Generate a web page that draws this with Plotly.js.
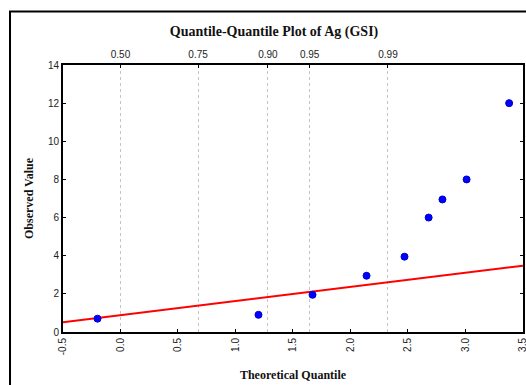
<!DOCTYPE html>
<html><head><meta charset="utf-8">
<script src="https://cdn.plot.ly/plotly-3.0.1.min.js"></script>
<style>html,body{margin:0;padding:0;background:#fff}#chart{width:526px;height:385px}</style>
</head><body><div id="chart"></div>
<script>
// Data
const theoretical = [-0.20, 1.20, 1.67, 2.14, 2.47, 2.68, 2.80, 3.01, 3.38];
const observed    = [0.7, 0.9, 1.95, 2.95, 3.95, 6.0, 6.95, 8.0, 12.0];
const fitX = [-0.5, 3.5];
const fitY = [0.51, 3.48];
const probLabels = ['0.50', '0.75', '0.90', '0.95', '0.99'];
const probQuantiles = [0, 0.6745, 1.2816, 1.6449, 2.3263];
const xTicks = [-0.5, 0, 0.5, 1, 1.5, 2, 2.5, 3, 3.5];
const xTickText = ['-0.5', '0.0', '0.5', '1.0', '1.5', '2.0', '2.5', '3.0', '3.5'];
const yTicks = [0, 2, 4, 6, 8, 10, 12, 14];

const serif = '"Liberation Serif", "Times New Roman", serif';
const sans = '"Liberation Sans", Arial, sans-serif';

const traces = [
  {x: fitX, y: fitY, mode: 'lines', line: {color: '#ff0000', width: 2}, xaxis: 'x', yaxis: 'y', hoverinfo: 'skip'},
  {x: theoretical, y: observed, mode: 'markers', marker: {color: '#0000ff', size: 7, line: {color: '#0000cc', width: 1}}, xaxis: 'x', yaxis: 'y'},
  {x: [null], y: [null], xaxis: 'x2', yaxis: 'y', showlegend: false}
];

const layout = {
  width: 526, height: 385,
  margin: {l: 63, r: 3, t: 65, b: 53},
  paper_bgcolor: '#fff', plot_bgcolor: '#fff',
  showlegend: false,
  title: {text: '<b>Quantile-Quantile Plot of Ag (GSI)</b>', font: {family: serif, size: 14, color: '#111'}, x: 0.521, xanchor: 'center', y: 0.918, yanchor: 'middle'},
  xaxis: {
    range: [-0.5, 3.5005], tickvals: xTicks, ticktext: xTickText, tickangle: -90,
    ticks: 'inside', ticklen: 3, tickcolor: '#000', tickwidth: 1,
    ticklabeloverflow: 'allow',
    showline: true, linecolor: '#000', linewidth: 2, mirror: true,
    showgrid: false, zeroline: false,
    tickfont: {family: sans, size: 10, color: '#222'},
    title: {text: '<b>Theoretical Quantile</b>', font: {family: serif, size: 12, color: '#111'}, standoff: 16}
  },
  xaxis2: {
    overlaying: 'x', side: 'top', matches: 'x', range: [-0.5, 3.5005],
    tickvals: probQuantiles, ticktext: probLabels,
    ticks: 'inside', ticklen: 3, tickcolor: '#000',
    ticklabelstandoff: 4,
    showline: false, showgrid: true, gridcolor: '#c4c4c4', griddash: '3px,3px', gridwidth: 1,
    zeroline: false,
    tickfont: {family: sans, size: 10, color: '#222'}
  },
  yaxis: {
    range: [0, 14], tickvals: yTicks,
    ticks: 'inside', ticklen: 3, tickcolor: '#000',
    showline: true, linecolor: '#000', linewidth: 2, mirror: 'ticks',
    showgrid: false, zeroline: false,
    tickfont: {family: sans, size: 10, color: '#222'},
    title: {text: '<b>Observed Value</b>', font: {family: serif, size: 12, color: '#111'}, standoff: 12}
  },
  shapes: [
    {type: 'rect', xref: 'paper', yref: 'paper', x0: -0.1152, x1: 1.3, y0: -0.5, y1: 1.2, line: {color: '#000', width: 2}, layer: 'below'}
  ]
};

Plotly.newPlot('chart', traces, layout, {displayModeBar: false, staticPlot: true});
</script>
</body></html>
